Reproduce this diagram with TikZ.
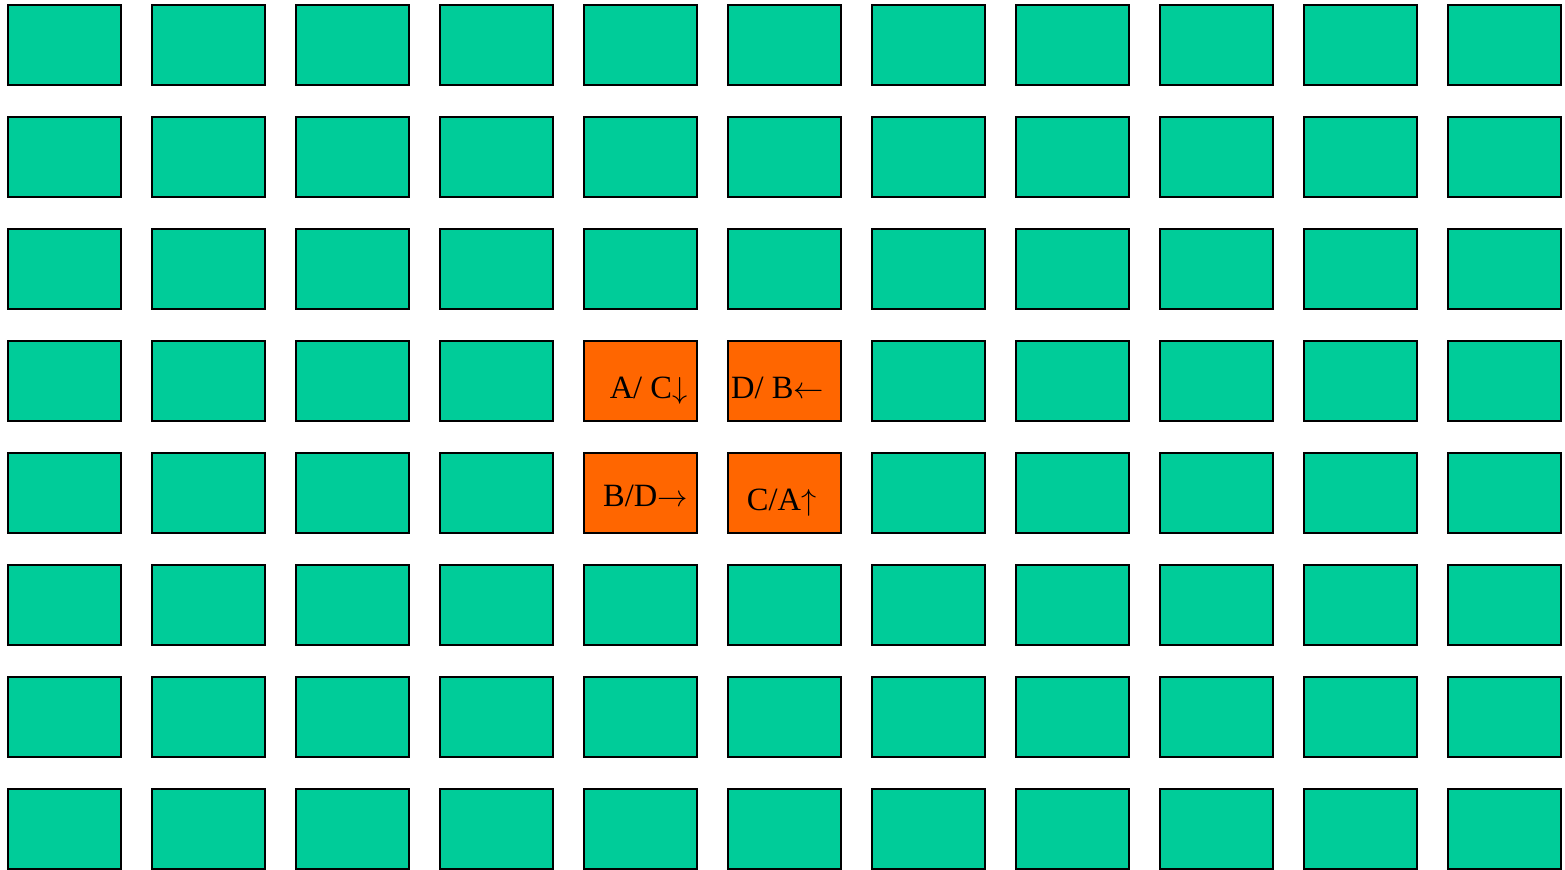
\documentclass[tikz,border=0pt]{standalone}
\usepackage{fontspec}
\setmainfont{Liberation Serif}
\usepackage{tikz}
\usetikzlibrary{positioning}
\definecolor{SeatGreen}{RGB}{0,204,153}
\definecolor{SeatOrange}{RGB}{255,102,0}

\begin{document}
\begin{tikzpicture}[x=0.02cm,y=-0.02cm,
  seat/.style={draw=black,line width=0.8pt,fill=SeatGreen,
               minimum width=2.26cm,minimum height=1.6cm,inner sep=0pt,outer sep=0pt},
  hot/.style={seat,fill=SeatOrange},
  lbl/.style={anchor=base,inner sep=0pt,font=\fontsize{18.5}{22}\selectfont},
]
\useasboundingbox (0,0) rectangle (1565,869);
\foreach \r in {0,...,7}
  \foreach \c in {0,...,10}
    \node[seat] (s-\r-\c) at (64.5+144*\c,45+112*\r) {};
\node[hot] (s-3-4) at (640.5,381) {};
\node[hot] (s-3-5) at (784.5,381) {};
\node[hot] (s-4-4) at (640.5,493) {};
\node[hot] (s-4-5) at (784.5,493) {};
\node[lbl] (ac) at (648.5,398) {A/ C$\downarrow$};
\node[lbl] (db) at (777.5,398) {D/ B$\leftarrow$};
\node[lbl] (bd) at (645.5,506.5) {B/D$\rightarrow$};
\node[lbl] (ca) at (781.5,510) {C/A$\uparrow$};
\end{tikzpicture}
\end{document}
